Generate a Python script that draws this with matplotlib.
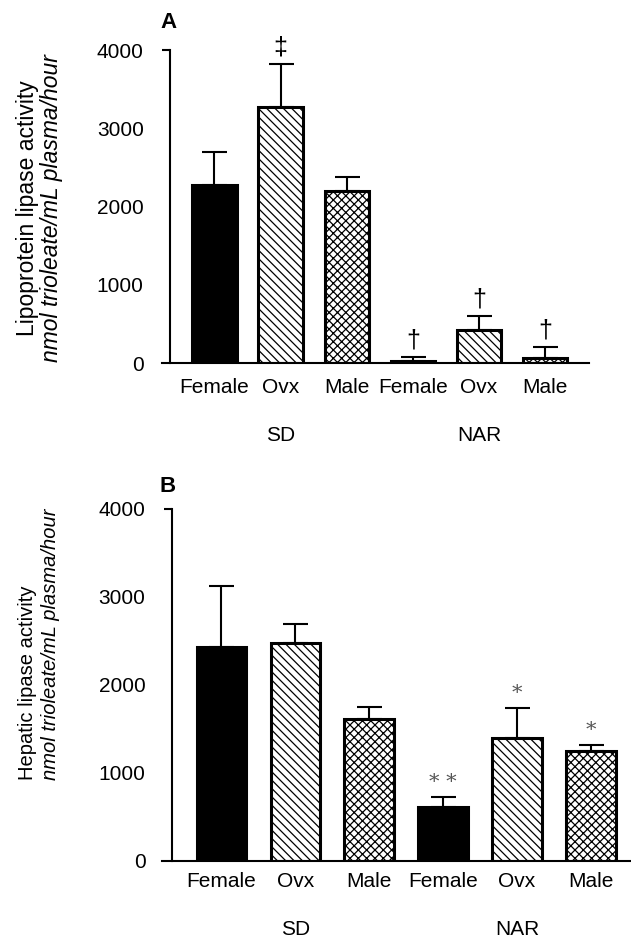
import numpy as np
import matplotlib
matplotlib.use("Agg")
import matplotlib.pyplot as plt

plt.rcParams['font.family'] = ['Liberation Sans', 'DejaVu Sans']
plt.rcParams['hatch.linewidth'] = 0.9

groups = ["Female", "Ovx", "Male", "Female", "Ovx", "Male"]
strains = ["SD", "NAR"]

lpl_mean = [2270, 3270, 2200, 25, 420, 65]
lpl_err = [425, 550, 180, 50, 180, 140]
lpl_marks = ["", "\u2021", "", "\u2020", "\u2020", "\u2020"]

hl_mean = [2430, 2475, 1615, 615, 1395, 1250]
hl_err = [700, 220, 135, 110, 345, 70]
hl_marks = ["", "", "", "* *", "*", "*"]

fills = ["black", "white", "white", "black", "white", "white"]
hatches = [None, "\\\\\\\\", "xxxx", None, "\\\\\\\\", "xxxx"]

fig = plt.figure(figsize=(6.31, 9.42), dpi=100)
axA = fig.add_axes([0.257, 0.6146, 0.677, 0.3323])
axB = fig.add_axes([0.257, 0.0860, 0.743, 0.3737])


def draw(ax, mean, err, marks, xlim, ylabel, letter, mark_style,
         label_x, label_y, label_va, label_size, letter_y, strain_y, pad):
    x = np.arange(len(mean))
    ax.bar(x, mean, width=0.67, color=fills, edgecolor="black",
           linewidth=2.2, hatch=hatches, zorder=2)
    ax.errorbar(x, mean, yerr=[np.zeros(len(err)), err], fmt="none",
                ecolor="black", elinewidth=1.5, capsize=9, capthick=1.5, zorder=1)
    for xi, m, e, s in zip(x, mean, err, marks):
        if s:
            ax.text(xi, m + e + 60, s, ha="center", va="bottom", **mark_style)
    ax.set_xlim(*xlim)
    ax.set_ylim(0, 4000)
    ax.set_yticks([0, 1000, 2000, 3000, 4000])
    # only the top tick mark is drawn in the original
    ax.yaxis.remove_overlapping_locs = False
    ax.set_yticks([4000], minor=True)
    ax.set_xticks(x, labels=groups)
    ax.tick_params(axis="x", length=0, labelsize=15, pad=pad)
    ax.tick_params(axis="y", length=0, labelsize=15, pad=19)
    ax.tick_params(axis="y", which="minor", length=6, width=1.5, labelleft=False)
    ax.spines[["top", "right"]].set_visible(False)
    ax.spines["left"].set_position(("data", -0.67))
    ax.spines["left"].set_linewidth(1.5)
    ax.spines["bottom"].set_linewidth(1.5)
    ax.text(xlim[0] - 0.03, letter_y, letter, transform=ax.get_xaxis_transform(),
            ha="left", va="bottom", fontsize=16, fontweight="bold")
    # strain labels under each block of three
    for i, s in enumerate(strains):
        ax.text(1 + 3 * i, strain_y, s, transform=ax.get_xaxis_transform(),
                ha="center", va="center", fontsize=15)
    ax.text(label_x[0], label_y, ylabel, transform=ax.transAxes, rotation=90,
            ha="center", va=label_va, fontsize=label_size)
    ax.text(label_x[1], label_y, "nmol trioleate/mL plasma/hour", transform=ax.transAxes,
            rotation=90, ha="center", va=label_va, fontsize=label_size, style="italic")


draw(axA, lpl_mean, lpl_err, lpl_marks, (-0.79, 5.67),
     "Lipoprotein lipase activity", "A",
     dict(fontsize=18, color="black"),
     (-0.316, -0.258), 0.495, "center", 16.5, 1.055, -0.233, 11)
draw(axB, hl_mean, hl_err, hl_marks, (-0.8, 5.54),
     "Hepatic lipase activity", "B",
     dict(fontsize=15, color="#555555", family="DejaVu Serif"),
     (-0.288, -0.239), 0.23, "bottom", 14.5, 1.035, -0.196, 8)

fig.savefig("out.png", dpi=100)
